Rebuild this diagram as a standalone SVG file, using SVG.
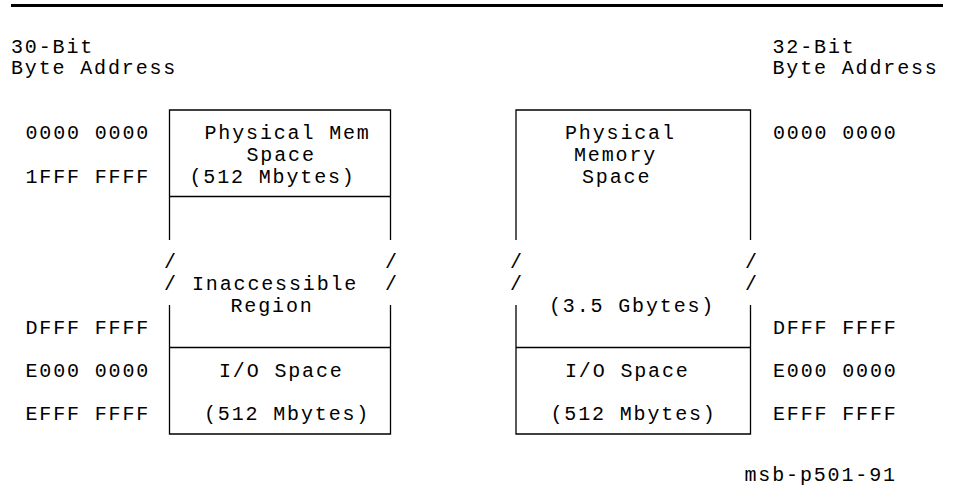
<svg xmlns="http://www.w3.org/2000/svg" width="953" height="489" viewBox="0 0 953 489">
<style>
text{font-family:"Liberation Mono","Courier New",monospace;font-size:20px;letter-spacing:1.85px;fill:#000}
.m{text-anchor:middle}
.ln{stroke:#000;stroke-width:1.3;fill:none}
</style>
<rect width="953" height="489" fill="#fff"/>
<g id="rule"><line x1="11" y1="5.5" x2="943" y2="5.5" stroke="#000" stroke-width="3"/></g>
<g id="left-header">
<text><tspan x="11" y="53">30-Bit</tspan><tspan x="11" y="74">Byte Address</tspan></text>
</g>
<g id="left-addresses">
<text x="25.5" y="139">0000 0000</text>
<text x="25.5" y="183">1FFF FFFF</text>
<text x="25.5" y="334">DFFF FFFF</text>
<text x="25.5" y="377">E000 0000</text>
<text x="25.5" y="420">EFFF FFFF</text>
</g>
<g id="left-map">
<path class="ln" d="M169.5,240 V110 H390.5 V240 M169.5,305 V434 H390.5 V305 M169.5,196.5 H390.5 M169.5,347.5 H390.5"/>
<text><tspan x="204.5" y="139">Physical Mem</tspan><tspan x="246.5" y="161">Space</tspan><tspan x="189.5" y="183">(512 Mbytes)</tspan></text>
<text class="m"><tspan x="171" y="268">/</tspan><tspan x="171" y="290">/</tspan></text>
<text class="m"><tspan x="392" y="268">/</tspan><tspan x="392" y="290">/</tspan></text>
<text><tspan x="192" y="290">Inaccessible</tspan><tspan x="230.5" y="312">Region</tspan></text>
<text x="219" y="377">I/O Space</text>
<text x="204" y="420">(512 Mbytes)</text>
</g>
<g id="right-map">
<path class="ln" d="M516,240 V110 H750.5 V240 M516,305 V434 H750.5 V305 M516,347.5 H750.5"/>
<text><tspan x="565" y="139">Physical</tspan><tspan x="574" y="161">Memory</tspan><tspan x="582" y="183">Space</tspan></text>
<text class="m"><tspan x="517" y="268">/</tspan><tspan x="517" y="290">/</tspan></text>
<text class="m"><tspan x="752" y="268">/</tspan><tspan x="752" y="290">/</tspan></text>
<text x="549" y="312">(3.5 Gbytes)</text>
<text x="565" y="377">I/O Space</text>
<text x="550.5" y="420">(512 Mbytes)</text>
</g>
<g id="right-header">
<text><tspan x="772.5" y="53">32-Bit</tspan><tspan x="772.5" y="74">Byte Address</tspan></text>
</g>
<g id="right-addresses">
<text x="773" y="139">0000 0000</text>
<text x="773" y="334">DFFF FFFF</text>
<text x="773" y="377">E000 0000</text>
<text x="773" y="420">EFFF FFFF</text>
</g>
<g id="caption"><text x="744.5" y="481">msb-p501-91</text></g>
</svg>
